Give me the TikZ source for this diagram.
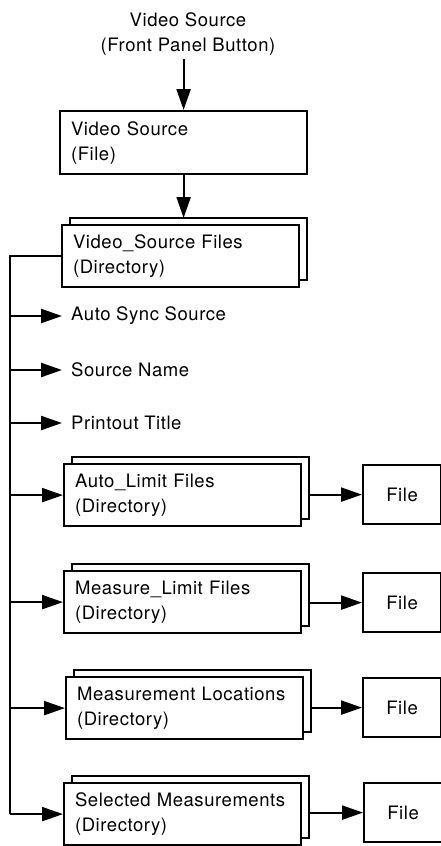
\documentclass[tikz,border=0pt]{standalone}
\usepackage{fontspec}
\setmainfont{TeX Gyre Heros}[LetterSpace=3]
\usetikzlibrary{arrows.meta,shadows,calc}
\tikzset{
  >={Triangle[length=21pt,width=14pt]},
  {line/.style} = {line width=2.2pt},
  {filebox/.style} = {line, draw, rectangle, fill=white, anchor=north west,
                  inner sep=0, minimum width=78pt, minimum height=59pt},
  {srcbox/.style} = {line, draw, rectangle, fill=white, anchor=north west,
                  inner xsep=11pt, inner ysep=0, text width=225pt,
                  minimum height=63pt, align=left},
  {dirbox/.style} = {srcbox, text width=215pt, minimum height=62pt,
                  copy shadow={shadow xshift=8pt, shadow yshift=7pt, line width=2.2pt}},
  {item/.style} = {anchor=west, inner xsep=9pt, inner ysep=0},
}

\begin{document}
\begin{tikzpicture}[x=1pt,y=-1pt,font=\fontsize{18.5}{25}\selectfont]
\useasboundingbox (0,0) rectangle (441,846);
\node[align=center] (button) at (188,34) {Video Source\\(Front Panel Button)};
\node[srcbox] (vsfile) at (59,110) {Video Source\\(File)};
\node[dirbox] (vs) at (61,224) {Video\_Source Files\\(Directory)};
\node[item] (asrc) at (62,316) {Auto Sync Source};
\node[item] (sname) at (62,370) {Source Name};
\node[item] (ptitle) at (62,423) {Printout Title};
\node[dirbox] (al) at (63,463) {Auto\_Limit Files\\(Directory)};
\node[dirbox] (ml) at (63,570) {Measure\_Limit Files\\(Directory)};
\node[dirbox] (mloc) at (65,676) {Measurement Locations\\(Directory)};
\node[dirbox] (sm) at (63,782) {Selected Measurements\\(Directory)};
\node[filebox] (f1) at (362,464) {File};
\node[filebox] (f2) at (362,572) {File};
\node[filebox] (f3) at (362,677) {File};
\node[filebox] (f4) at (363,782) {File};
\coordinate (trunk) at (10,0);

\draw[line,->] (vsfile.north |- button.south) -- (vsfile.north);
\draw[line,->] (vsfile.south) -- ($(vsfile.south |- vs.north)+(0,-6)$);
\draw[line] (vs.west) -| (trunk |- sm.west);
\foreach \n in {asrc,sname,ptitle,al,ml,mloc,sm}
  \draw[line,->] (trunk |- \n.west) -- (\n.west);
\foreach \d/\f in {al/f1,ml/f2,mloc/f3,sm/f4}
  \draw[line,->] ([xshift=8pt]\d.east |- \f.west) -- (\f.west);
\end{tikzpicture}
\end{document}
